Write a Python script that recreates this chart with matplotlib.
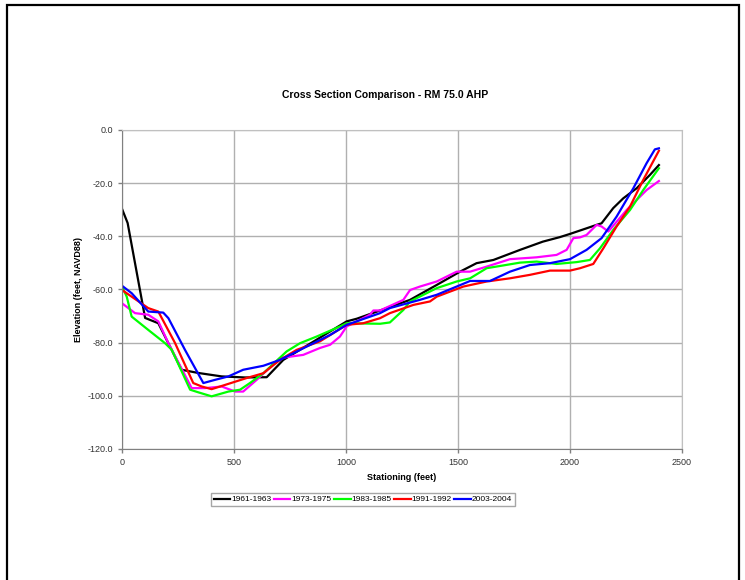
import matplotlib.pyplot as plt
from matplotlib.patches import Rectangle

plt.rcParams['font.family'] = ['Liberation Sans', 'DejaVu Sans']

# survey profiles: stationing (ft) / elevation (ft, NAVD88)
x_1961 = [0, 25, 103, 162, 266, 340, 445, 549, 646, 720, 1003, 1048, 1286, 1405,
          1509, 1583, 1658, 1777, 1879, 1955, 2000, 2119, 2141, 2193, 2238, 2298, 2357, 2397]
y_1961 = [-29.7, -35, -70.7, -72.7, -90.2, -91.4, -92.7, -93.1, -93, -86.5, -72, -71, -63.9, -58.3,
          -53.3, -50.1, -48.9, -45.1, -42, -40.3, -39.1, -35.7, -35.1, -29.4, -25.7, -21.9, -16.9, -13.2]

x_1973 = [0, 58, 117, 162, 207, 311, 371, 445, 505, 541, 601, 705, 809, 884, 929, 973, 1003,
          1107, 1122, 1152, 1256, 1286, 1330, 1405, 1494, 1554, 1628, 1732, 1851, 1940, 1985,
          2015, 2045, 2074, 2119, 2141, 2171, 2253, 2342, 2397]
y_1973 = [-65.2, -68.9, -69.5, -72, -80.2, -97.1, -97.1, -96.5, -98.4, -98.4, -94, -85.8, -84.6,
          -82, -80.8, -77.7, -73.9, -69.5, -67.9, -67.9, -63.9, -60.2, -58.9, -57, -53.3, -53.3,
          -51.4, -48.6, -47.9, -47, -45.1, -40.7, -40.4, -39.5, -35.7, -36.3, -38.2, -30.1,
          -22.6, -19.2]

x_1983 = [0, 21, 43, 117, 192, 222, 304, 341, 400, 475, 527, 571, 631, 735, 795, 869, 973,
          1003, 1152, 1196, 1256, 1286, 1405, 1494, 1554, 1628, 1777, 1851, 1940, 2030, 2089,
          2134, 2193, 2268, 2327, 2397]
y_1983 = [-58.9, -62.7, -70.2, -75.2, -80.2, -82.7, -97.7, -98.7, -100.2, -98.4, -97.7, -95.2,
          -91.5, -83.3, -80.2, -77.7, -73.9, -72.7, -72.9, -72.4, -67.7, -64.5, -59.5, -57,
          -55.8, -52, -49.9, -49.5, -50.4, -49.7, -48.9, -44.5, -37.6, -30.1, -22.6, -14.4]

x_1991 = [0, 43, 117, 162, 237, 318, 356, 400, 460, 557, 631, 705, 780, 884, 1003, 1077,
          1152, 1196, 1301, 1375, 1405, 1524, 1628, 1732, 1821, 1911, 2000, 2045, 2104, 2149,
          2208, 2268, 2327, 2397]
y_1991 = [-60.2, -62.7, -67, -68.3, -80.2, -95.2, -96.5, -97.5, -95.9, -93.3, -91.5, -86.5,
          -82.7, -79.5, -73.3, -72.7, -70.8, -68.9, -65.8, -64.5, -62.7, -58.9, -57, -55.8,
          -54.5, -52.9, -52.9, -52, -50.4, -44.5, -36.3, -28.8, -18.8, -7.8]

x_2003 = [0, 43, 117, 184, 207, 281, 363, 415, 475, 541, 631, 705, 824, 929, 1003, 1152,
          1196, 1330, 1405, 1494, 1554, 1643, 1732, 1821, 1911, 2000, 2074, 2141, 2208, 2283,
          2342, 2379, 2397]
y_2003 = [-58.6, -61.4, -68.3, -68.7, -70.8, -82.7, -95.2, -94, -92.7, -90.2, -88.7, -86.5,
          -81.5, -77.1, -73.3, -68.9, -67, -63.9, -62, -58.9, -56.8, -56.8, -53.3, -50.8,
          -50.1, -48.6, -45.1, -40.7, -32.6, -21.9, -12.5, -7.3, -6.9]

series = [
    ('1961-1963', x_1961, y_1961, 'black'),
    ('1973-1975', x_1973, y_1973, '#ff00ff'),
    ('1983-1985', x_1983, y_1983, '#00ff00'),
    ('1991-1992', x_1991, y_1991, '#ff0000'),
    ('2003-2004', x_2003, y_2003, '#0000ff'),
]

fig = plt.figure(figsize=(7.45, 5.80), dpi=100)
ax = fig.add_axes([0.1638, 0.2259, 0.7516, 0.55])

for label, xs, ys, color in series:
    ax.plot(xs, ys, color=color, lw=1.6, label=label)

ax.set_xlim(0, 2500)
ax.set_ylim(-120, 0)
ax.set_xticks(range(0, 2501, 500))
ax.set_yticks(range(-120, 1, 20))
ax.set_yticklabels([f'{v:.1f}' for v in range(-120, 1, 20)])
ax.grid(True, color='#b0b0b0', lw=1.0)
ax.set_axisbelow(True)
for side in ['left', 'bottom']:
    ax.spines[side].set_color('#808080')
for side in ['top', 'right']:
    ax.spines[side].set_color('#c0c0c0')
ax.tick_params(colors='#808080', labelcolor='#333333', labelsize=6.5, length=3, width=1)

ax.set_title('Cross Section Comparison - RM 75.0 AHP', fontsize=7.5, fontweight='bold',
             pad=23, x=0.47)
ax.set_xlabel('Stationing (feet)', fontsize=6.5, fontweight='bold', labelpad=4)
ax.set_ylabel('Elevation (feet, NAVD88)', fontsize=6.5, fontweight='bold', labelpad=3)

leg = ax.legend(loc='upper center', bbox_to_anchor=(0.43, -0.137), ncol=5, fontsize=6.0,
                frameon=True, fancybox=False, handlelength=2.0, handletextpad=0.1,
                columnspacing=0.3, borderpad=0.35, borderaxespad=0)
leg.get_frame().set_edgecolor('#909090')
leg.get_frame().set_linewidth(1.0)

# page border
fig.patches.append(Rectangle((7 / 745, -0.05), 732 / 745, 1 - 5 / 580 + 0.05,
                             transform=fig.transFigure, fill=False, ec='black', lw=1.6))

fig.savefig('out.png', dpi=100)
